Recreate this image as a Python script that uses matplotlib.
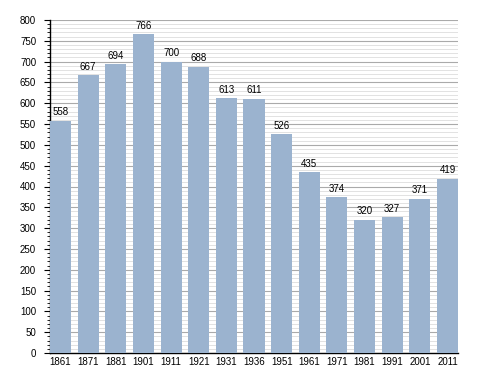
import matplotlib.pyplot as plt
from matplotlib.ticker import MultipleLocator

years = ["1861", "1871", "1881", "1901", "1911", "1921", "1931", "1936",
         "1951", "1961", "1971", "1981", "1991", "2001", "2011"]
population = [558, 667, 694, 766, 700, 688, 613, 611, 526, 435, 374, 320, 327, 371, 419]

plt.rcParams["font.family"] = ["Liberation Sans", "DejaVu Sans"]

fig = plt.figure(figsize=(4.88, 3.73), dpi=100)
ax = fig.add_axes([50 / 488, 20 / 373, 408 / 488, 333 / 373])

x = range(len(years))
ax.bar(x, population, width=0.76, color="#9bb3cf", zorder=3)

# valori deasupra barelor
for xi, v in zip(x, population):
    ax.text(xi, v + 8, str(v), ha="center", va="bottom", fontsize=7, zorder=4)

ax.set_xlim(-0.38, len(years) - 1 + 0.38)
ax.set_ylim(0, 800)
ax.set_xticks(list(x))
ax.set_xticklabels(years)
ax.yaxis.set_major_locator(MultipleLocator(50))
ax.yaxis.set_minor_locator(MultipleLocator(10))

ax.grid(axis="y", which="major", color="#aaaaaa", linewidth=0.8, zorder=0)
ax.grid(axis="y", which="minor", color="#dddddd", linewidth=0.6, zorder=0)

ax.tick_params(axis="x", length=0, labelsize=7, pad=3)
ax.tick_params(axis="y", which="major", length=4, width=0.8, labelsize=7, pad=6)
ax.tick_params(axis="y", which="minor", length=2, width=0.6)

ax.spines["top"].set_visible(False)
ax.spines["right"].set_visible(False)
ax.spines["left"].set_linewidth(1)
ax.spines["bottom"].set_linewidth(1)

fig.savefig("out.png", dpi=100)
